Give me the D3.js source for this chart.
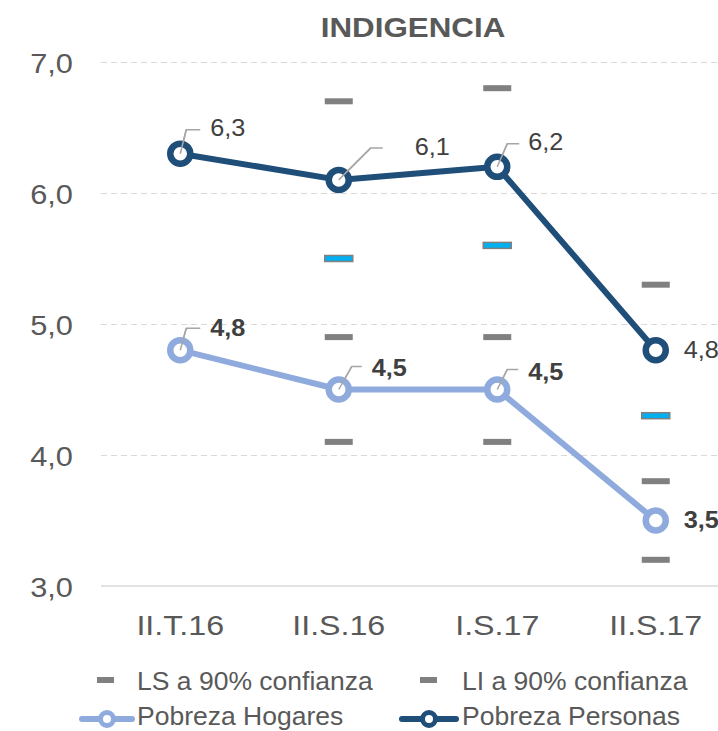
<!DOCTYPE html>
<html>
<head>
<meta charset="utf-8">
<script src="https://cdn.jsdelivr.net/npm/d3@7"></script>
<style>
	body { margin: 0; background: #fff; }
	text { font-family: "Liberation Sans", Arial, sans-serif; }
</style>
</head>
<body>
<div id="chart"></div>
<script>
"use strict";

// Data
var periods = ["II.T.16", "II.S.16", "I.S.17", "II.S.17"];
var personas = [6.3, 6.1, 6.2, 4.8];
var hogares = [4.8, 4.5, 4.5, 3.5];
// confidence limits (first period has none)
var lsPersonas = [null, 6.7, 6.8, 5.3];
var liPersonas = [null, 5.5, 5.6, 4.3];
var lsHogares = [null, 4.9, 4.9, 3.8];
var liHogares = [null, 4.1, 4.1, 3.2];
var yTicks = [3, 4, 5, 6, 7];

// Layout
var width = 718, height = 731;
var plot = { left: 101, right: 735, top: 62, bottom: 586 };

// label placement: [dx, dy] of label from point, leader: [elbow dx, dy, end dx]
var personasLabels = [
	{ dx: 30, dy: -18, leader: [6, -24, 20] },
	{ dx: 76, dy: -25, leader: [32, -32, 44] },
	{ dx: 31, dy: -17, leader: [10, -23, 22] },
	{ dx: 28, dy: 8, leader: null }
];
var hogaresLabels = [
	{ dx: 30, dy: -14, leader: [6, -22, 20] },
	{ dx: 33, dy: -13, leader: [13, -23, 23] },
	{ dx: 31, dy: -9, leader: [10, -20, 21] },
	{ dx: 28, dy: 8, leader: null }
];

var fmt = function(v) { return d3.format(".1f")(v).replace(".", ","); };

// widen text a bit, the original chart was stretched horizontally
function stretch(sel, k) {
	sel.each(function() {
		var t = d3.select(this);
		var x0 = +t.attr("x") || 0;
		t.attr("x", 0).attr("transform", "translate(" + x0 + ",0) scale(" + k + ",1)");
	});
}

var svg = d3.select("#chart").append("svg")
	.attr("width", width)
	.attr("height", height);

svg.append("rect").attr("width", width).attr("height", height).attr("fill", "#fff");

var x = d3.scaleBand().domain(periods).range([plot.left, plot.right]);
var y = d3.scaleLinear().domain([3, 7]).range([plot.bottom, plot.top]);
var cx = function(i) { return x(periods[i]) + x.bandwidth() / 2; };

// Gridlines
var grid = svg.append("g")
	.attr("transform", "translate(" + plot.left + ",0)")
	.call(d3.axisLeft(y).tickValues(yTicks.slice(1)).tickSize(-(plot.right - plot.left)).tickFormat(""));
grid.select(".domain").remove();
grid.selectAll("line")
	.attr("stroke", "#d9d9d9")
	.attr("stroke-width", 1)
	.attr("stroke-dasharray", "6,4");

// baseline
svg.append("line")
	.attr("x1", plot.left).attr("x2", plot.right)
	.attr("y1", y(3)).attr("y2", y(3))
	.attr("stroke", "#d9d9d9").attr("stroke-width", 1.5);

// Y axis labels
var yAxis = svg.append("g")
	.attr("transform", "translate(73,0)")
	.call(d3.axisLeft(y).tickValues(yTicks).tickSize(0).tickPadding(0).tickFormat(fmt));
yAxis.select(".domain").remove();
yAxis.selectAll("text")
	.attr("font-size", 28)
	.attr("fill", "#595959")
	.attr("dy", "0.36em")
	.style("font-family", "'Liberation Sans', Arial, sans-serif")
	.call(stretch, 1.1);

// X axis labels
var xAxis = svg.append("g")
	.attr("transform", "translate(0," + plot.bottom + ")")
	.call(d3.axisBottom(x).tickSize(0).tickPadding(0));
xAxis.select(".domain").remove();
xAxis.selectAll("text")
	.attr("font-size", 28)
	.attr("fill", "#595959")
	.attr("y", 49)
	.attr("dy", 0)
	.style("font-family", "'Liberation Sans', Arial, sans-serif")
	.call(stretch, 1.15);

// Title
svg.append("text")
	.attr("x", 413).attr("y", 37)
	.attr("text-anchor", "middle")
	.attr("font-size", 28)
	.attr("font-weight", "bold")
	.attr("fill", "#595959")
	.text("INDIGENCIA")
	.call(stretch, 1.12);

// Confidence limit dashes
function drawDashes(values, fill, outlined) {
	svg.append("g")
		.selectAll("rect")
		.data(values.map(function(v, i) { return { v: v, i: i }; }).filter(function(d) { return d.v !== null; }))
		.enter()
		.append("rect")
		.attr("x", function(d) { return cx(d.i) - 14; })
		.attr("y", function(d) { return y(d.v) - 3; })
		.attr("width", 28)
		.attr("height", 6)
		.attr("fill", fill)
		.attr("stroke", outlined ? "#808080" : "none")
		.attr("stroke-width", outlined ? 1.5 : 0);
}
drawDashes(lsPersonas, "#808080", false);
drawDashes(liPersonas, "#00b0f0", true);
drawDashes(lsHogares, "#808080", false);
drawDashes(liHogares, "#808080", false);

// Lines
var line = d3.line()
	.x(function(d, i) { return cx(i); })
	.y(function(d) { return y(d); });

function drawSeries(values, color, labels, bold) {
	var g = svg.append("g");
	var leaders = values
		.map(function(v, i) { return { v: v, i: i, l: labels[i] }; })
		.filter(function(d) { return d.l.leader; });

	// leader lines
	g.selectAll("polyline")
		.data(leaders)
		.enter()
		.append("polyline")
		.attr("points", function(d) {
			var px = cx(d.i), py = y(d.v), L = d.l.leader;
			return [px, py, px + L[0], py + L[1], px + L[2], py + L[1]].join(",");
		})
		.attr("fill", "none")
		.attr("stroke", "#a6a6a6")
		.attr("stroke-width", 1.5);

	g.append("path")
		.datum(values)
		.attr("d", line)
		.attr("fill", "none")
		.attr("stroke", color)
		.attr("stroke-width", 6)
		.attr("stroke-linejoin", "round");

	g.selectAll("circle")
		.data(values)
		.enter()
		.append("circle")
		.attr("cx", function(d, i) { return cx(i); })
		.attr("cy", function(d) { return y(d); })
		.attr("r", 10)
		.attr("fill", "#fff")
		.attr("stroke", color)
		.attr("stroke-width", 6.5);

	// leader start drawn again over the marker
	g.selectAll("line.lead")
		.data(leaders)
		.enter()
		.append("line")
		.attr("class", "lead")
		.attr("x1", function(d) { return cx(d.i); })
		.attr("y1", function(d) { return y(d.v); })
		.attr("x2", function(d) { return cx(d.i) + d.l.leader[0]; })
		.attr("y2", function(d) { return y(d.v) + d.l.leader[1]; })
		.attr("stroke", "#a6a6a6")
		.attr("stroke-width", 1.5);

	g.selectAll("text")
		.data(values)
		.enter()
		.append("text")
		.attr("x", function(d, i) { return cx(i) + labels[i].dx; })
		.attr("y", function(d, i) { return y(d) + labels[i].dy; })
		.attr("font-size", 23)
		.attr("font-weight", bold ? "bold" : "normal")
		.attr("fill", "#404040")
		.text(fmt)
		.call(stretch, 1.1);
}
drawSeries(hogares, "#8faadc", hogaresLabels, true);
drawSeries(personas, "#1f4e79", personasLabels, false);

// Legend
var legend = svg.append("g");
var legendText = function(tx, ty, label) {
	legend.append("text")
		.attr("x", tx).attr("y", ty)
		.attr("font-size", 26)
		.attr("fill", "#595959")
		.text(label)
		.call(stretch, 1.02);
};
legend.append("rect").attr("x", 97).attr("y", 677).attr("width", 17).attr("height", 6).attr("fill", "#808080");
legendText(137, 690, "LS a 90% confianza");
legend.append("rect").attr("x", 420).attr("y", 677).attr("width", 17).attr("height", 6).attr("fill", "#808080");
legendText(462, 690, "LI a 90% confianza");

var legendLine = function(x1, x2, color) {
	legend.append("line")
		.attr("x1", x1).attr("x2", x2).attr("y1", 719).attr("y2", 719)
		.attr("stroke", color).attr("stroke-width", 6).attr("stroke-linecap", "round");
	legend.append("circle")
		.attr("cx", (x1 + x2) / 2).attr("cy", 719).attr("r", 6.5)
		.attr("fill", "#fff").attr("stroke", color).attr("stroke-width", 5);
};
legendLine(82, 132, "#8faadc");
legendText(137, 725, "Pobreza Hogares");
legendLine(402, 456, "#1f4e79");
legendText(462, 725, "Pobreza Personas");
</script>
</body>
</html>
